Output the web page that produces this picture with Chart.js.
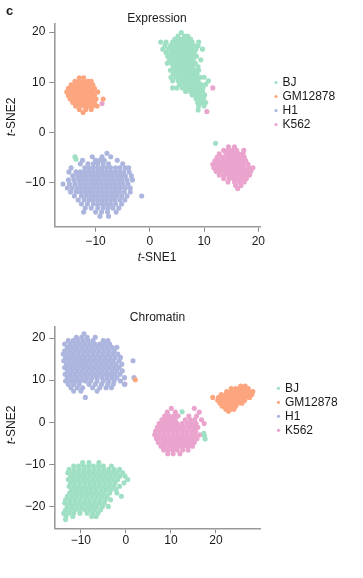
<!DOCTYPE html>
<html><head><meta charset="utf-8">
<script src="https://cdn.jsdelivr.net/npm/chart.js@4"></script>
<style>
html,body{margin:0;padding:0;background:#fff;width:363px;height:578px;overflow:hidden}
canvas{position:absolute;left:0}
#c1{top:0}
#c2{top:290px}
</style></head><body>
<canvas id="c1" width="363" height="290"></canvas>
<canvas id="c2" width="363" height="288"></canvas>
<script>
const cellTypes = ['BJ', 'GM12878', 'H1', 'K562'];
const colors = ['#9fe0c4', '#fca57e', '#abb5de', '#e9a3cd'];
const panelTitles = ['Expression', 'Chromatin'];
const exprTicksX = [-10, 0, 10, 20];
const exprTicksY = [-10, 0, 10, 20];
const chromTicksX = [-10, 0, 10, 20];
const chromTicksY = [-20, -10, 0, 10, 20];

// ---- Expression panel: rows of [y, [x values]] ----
const exprBJ = [
  [19.9, [5.8]],
  [19.2, [5.2, 6.4, 7.0]],
  [18.6, [4.6, 5.4, 6.1, 6.8, 7.5]],
  [18.0, [2.0, 3.0, 4.2, 5.0, 5.7, 6.4, 7.1, 7.8, 9.0]],
  [17.3, [2.8, 3.8, 4.6, 5.3, 6.0, 6.7, 7.4, 8.1, 8.9]],
  [16.6, [2.4, 3.4, 4.2, 5.0, 5.7, 6.4, 7.1, 7.8, 8.5, 9.7]],
  [15.9, [3.0, 3.9, 4.6, 5.4, 6.1, 6.8, 7.5, 8.2]],
  [15.2, [3.3, 4.1, 4.9, 5.6, 6.3, 7.0, 7.7, 8.6]],
  [14.5, [3.6, 4.4, 5.2, 5.9, 6.6, 7.3, 8.0, 9.4]],
  [13.8, [3.2, 4.0, 4.8, 5.5, 6.2, 6.9, 7.6, 8.4]],
  [13.1, [4.3, 5.0, 5.8, 6.5, 7.2, 7.9, 8.9]],
  [12.4, [3.8, 4.6, 5.4, 6.1, 6.8, 7.5, 8.2, 9.0]],
  [11.7, [4.3, 5.1, 5.9, 6.6, 7.3, 8.0, 8.7]],
  [11.0, [3.9, 4.8, 5.6, 6.4, 7.1, 7.8, 8.5, 9.3, 10.0]],
  [10.3, [4.2, 5.2, 6.0, 6.8, 7.5, 8.2, 8.9, 10.8]],
  [9.6, [5.5, 6.4, 7.2, 7.9, 8.6, 9.4, 10.3]],
  [8.9, [4.2, 5.0, 6.0, 6.9, 7.6, 8.3, 9.0, 9.8]],
  [8.2, [6.6, 7.5, 8.3, 9.0, 9.7]],
  [7.5, [7.8, 8.6, 9.3, 10.1]],
  [6.8, [8.5, 9.2, 9.9]],
  [6.0, [8.8, 9.6, 10.3]],
  [5.3, [9.0, 10.0]],
  [4.5, [8.9]]
];
const exprBJOut = [[-13.8, -4.8], [-13.6, -5.3], [12.1, -2.1]];

const exprGM = [
  [10.9, [-13.0, -12.2]],
  [10.2, [-13.8, -13.0, -12.2, -11.4, -10.8]],
  [9.5, [-14.5, -13.7, -12.9, -12.1, -11.3, -10.5]],
  [8.8, [-15.0, -14.2, -13.4, -12.6, -11.8, -11.0, -10.2]],
  [8.1, [-15.3, -14.5, -13.7, -12.9, -12.1, -11.3, -10.5, -9.6]],
  [7.4, [-15.0, -14.2, -13.4, -12.6, -11.8, -11.0, -10.2]],
  [6.7, [-14.7, -13.9, -13.1, -12.3, -11.5, -10.7, -9.9, -8.6]],
  [6.0, [-14.2, -13.4, -12.6, -11.8, -11.0, -10.2]],
  [5.3, [-13.7, -12.9, -12.1, -11.3, -10.5, -9.7]],
  [4.6, [-13.0, -11.8, -10.8]],
  [4.0, [-12.3]]
];
const exprGMOut = [];

const exprH1 = [
  [-4.1, [-7.9]],
  [-4.8, [-10.6, -8.8, -7.2]],
  [-5.5, [-12.4, -10.0, -9.2, -8.4, -6.0]],
  [-6.2, [-12.8, -11.4, -10.4, -9.6, -8.6, -7.6, -5.0]],
  [-7.0, [-14.5, -12.0, -11.2, -10.4, -9.6, -8.8, -8.0, -7.2, -6.3, -5.5, -4.5, -3.9]],
  [-7.8, [-14.9, -13.6, -12.8, -12.0, -11.2, -10.4, -9.6, -8.8, -8.0, -7.2, -6.4, -5.6, -4.8, -3.8]],
  [-8.6, [-14.2, -13.3, -12.5, -11.7, -10.9, -10.1, -9.3, -8.5, -7.7, -6.9, -6.1, -5.3, -4.5, -3.4]],
  [-9.4, [-15.0, -14.0, -13.1, -12.3, -11.5, -10.7, -9.9, -9.1, -8.3, -7.5, -6.7, -5.9, -5.1, -4.2, -3.2]],
  [-10.2, [-16.0, -14.8, -13.8, -12.9, -12.1, -11.3, -10.5, -9.7, -8.9, -8.1, -7.3, -6.5, -5.7, -4.9, -4.0]],
  [-11.0, [-15.2, -14.3, -13.4, -12.6, -11.8, -11.0, -10.2, -9.4, -8.6, -7.8, -7.0, -6.2, -5.4, -4.5, -3.6]],
  [-11.8, [-14.6, -13.6, -12.8, -12.0, -11.2, -10.4, -9.6, -8.8, -8.0, -7.2, -6.4, -5.6, -4.7, -3.6]],
  [-12.6, [-13.9, -12.6, -11.7, -10.9, -10.1, -9.3, -8.5, -7.7, -6.9, -6.1, -5.2, -4.2, -1.5]],
  [-13.4, [-13.2, -12.1, -11.2, -10.4, -9.6, -8.8, -8.0, -7.2, -6.4, -5.5, -4.6]],
  [-14.2, [-12.6, -11.5, -10.4, -9.6, -8.8, -8.0, -7.2, -6.3, -5.2]],
  [-15.0, [-11.9, -10.8, -9.6, -8.6, -7.7, -6.8, -5.7]],
  [-15.8, [-12.2, -10.0, -8.9, -7.8, -6.2]],
  [-16.6, [-9.2, -7.6]]
];
const exprH1Out = [];

const exprK562 = [
  [-2.8, [14.5, 15.6]],
  [-3.5, [13.6, 14.4, 15.2, 16.0, 17.3]],
  [-4.2, [12.8, 14.0, 14.8, 15.6, 16.4, 17.2]],
  [-4.9, [12.4, 13.3, 14.2, 15.0, 15.8, 16.6, 17.4]],
  [-5.6, [12.0, 12.8, 13.7, 14.5, 15.3, 16.1, 16.9, 17.7]],
  [-6.3, [11.6, 12.4, 13.2, 14.0, 14.8, 15.6, 16.4, 17.2, 18.1]],
  [-7.0, [11.8, 12.6, 13.4, 14.2, 15.0, 15.8, 16.6, 17.4, 18.3, 19.0]],
  [-7.7, [12.2, 13.0, 13.8, 14.6, 15.4, 16.2, 17.0, 17.8, 18.6]],
  [-8.4, [12.8, 13.7, 14.5, 15.3, 16.1, 16.9, 17.7, 18.4]],
  [-9.1, [13.6, 14.6, 15.4, 16.2, 17.0, 17.8]],
  [-9.8, [14.4, 15.6, 16.5, 17.4]],
  [-10.5, [15.8, 16.8]],
  [-11.1, [16.2]]
];
const exprK562Out = [[11.6, 8.9], [10.5, 4.2], [-8.8, 5.8]];

// ---- Chromatin panel ----
const chromBJ = [
  [-9.6, [-9.6, -8.2, -6.0]],
  [-10.4, [-11.6, -10.5, -9.4, -8.3, -7.2, -6.1, -5.0, -3.2]],
  [-11.2, [-12.6, -11.5, -10.4, -9.3, -8.2, -7.1, -6.0, -4.9, -3.8, -2.6, -1.4]],
  [-12.0, [-12.9, -11.8, -10.7, -9.6, -8.5, -7.4, -6.3, -5.2, -4.1, -3.0, -1.9, -0.7]],
  [-12.8, [-12.3, -11.2, -10.1, -9.0, -7.9, -6.8, -5.7, -4.6, -3.5, -2.4, -1.3, -0.2]],
  [-13.6, [-12.8, -11.7, -10.6, -9.5, -8.4, -7.3, -6.2, -5.1, -4.0, -2.9, -1.8, 0.4]],
  [-14.4, [-12.3, -11.2, -10.1, -9.0, -7.9, -6.8, -5.7, -4.6, -3.5, -2.4, -0.4]],
  [-15.2, [-12.6, -11.5, -10.4, -9.3, -8.2, -7.1, -6.0, -4.9, -3.8, -2.7, -1.4]],
  [-16.0, [-12.1, -11.0, -9.9, -8.8, -7.7, -6.6, -5.5, -4.4, -3.3, -2.2]],
  [-16.8, [-12.5, -11.4, -10.3, -9.2, -8.1, -7.0, -5.9, -4.8, -3.6, -2.0]],
  [-17.6, [-13.0, -11.9, -10.8, -9.7, -8.6, -7.5, -6.4, -5.3, -4.2, -1.0]],
  [-18.4, [-13.4, -12.3, -11.2, -10.1, -9.0, -7.9, -6.8, -5.7, -4.6, -3.4]],
  [-19.2, [-13.6, -12.5, -11.4, -10.3, -9.2, -8.1, -7.0, -5.9, -4.8]],
  [-20.0, [-13.0, -11.9, -10.8, -9.7, -8.6, -7.5, -6.4, -5.2, -3.9]],
  [-20.8, [-13.4, -12.3, -11.2, -10.1, -9.0, -7.9, -6.8, -5.6]],
  [-21.6, [-13.8, -12.7, -11.6, -10.2, -8.6, -7.4, -6.2]],
  [-22.4, [-13.3, -11.8, -7.6, -6.6]],
  [-23.1, [-13.4]]
];
const chromBJOut = [[12.5, 2.5], [17.3, -2.6], [17.5, -3.3], [17.6, -4.0]];

const chromGM = [
  [8.6, [25.5, 26.5]],
  [8.0, [23.4, 24.4, 25.3, 26.3, 27.2]],
  [7.3, [22.4, 23.4, 24.4, 25.4, 26.4, 27.4, 28.2]],
  [6.6, [21.2, 22.2, 23.2, 24.2, 25.2, 26.2, 27.2, 28.0]],
  [5.9, [19.3, 20.6, 21.6, 22.6, 23.6, 24.6, 25.6, 26.6, 27.5]],
  [5.2, [20.4, 21.4, 22.4, 23.4, 24.4, 25.4, 26.4]],
  [4.5, [20.9, 21.9, 22.9, 23.9, 24.9, 25.8]],
  [3.8, [21.4, 22.4, 23.4, 24.4]],
  [3.1, [22.2, 23.2, 24.0]],
  [2.6, [22.8]]
];
const chromGMOut = [[2.1, 10.1]];

const chromH1 = [
  [21.0, [-9.3]],
  [20.2, [-11.0, -9.8, -8.6, -6.8]],
  [19.4, [-12.8, -11.7, -10.6, -9.5, -8.4, -7.3, -5.0, -4.0]],
  [18.6, [-13.6, -12.4, -11.3, -10.2, -9.1, -8.0, -6.9, -5.8, -4.7, -3.6]],
  [17.8, [-13.0, -11.9, -10.8, -9.7, -8.6, -7.5, -6.4, -5.3, -4.2, -3.1, -2.0]],
  [17.0, [-13.6, -12.5, -11.4, -10.3, -9.2, -8.1, -7.0, -5.9, -4.8, -3.7, -2.6]],
  [16.2, [-13.9, -12.8, -11.7, -10.6, -9.5, -8.4, -7.3, -6.2, -5.1, -4.0, -2.9, -1.8]],
  [15.4, [-13.4, -12.3, -11.2, -10.1, -9.0, -7.9, -6.8, -5.7, -4.6, -3.5, -2.4, -1.2]],
  [14.6, [-13.8, -12.7, -11.6, -10.5, -9.4, -8.3, -7.2, -6.1, -5.0, -3.9, -2.8, -1.5, 1.6]],
  [13.8, [-13.2, -12.1, -11.0, -9.9, -8.8, -7.7, -6.6, -5.5, -4.4, -3.3, -2.2, -0.9]],
  [13.0, [-13.6, -12.5, -11.4, -10.3, -9.2, -8.1, -7.0, -5.9, -4.8, -3.7, -2.6, -1.5]],
  [12.2, [-13.0, -11.9, -10.8, -9.7, -8.6, -7.5, -6.4, -5.3, -4.2, -3.1, -2.0, -0.8]],
  [11.4, [-13.5, -12.4, -11.3, -10.2, -9.1, -8.0, -6.9, -5.8, -4.7, -3.6, -2.5, -1.3]],
  [10.6, [-13.0, -11.9, -10.8, -9.7, -8.6, -7.5, -6.4, -5.3, -4.2, -3.1, -2.0, -0.3, 1.8]],
  [9.8, [-13.4, -12.3, -11.2, -10.1, -9.0, -7.8, -6.4, -5.0, -3.8, -2.6, -1.2]],
  [9.0, [-12.8, -11.6, -10.4, -8.2, -6.8, -5.4, -4.0, -2.8, -0.3]],
  [8.2, [-12.2, -10.8, -9.6, -7.4, -5.8, -4.4, -3.2]],
  [7.4, [-11.6, -10.0, -6.4]],
  [5.9, [-9.0]]
];
const chromH1Out = [];

const chromK562 = [
  [3.3, [10.1, 15.2]],
  [2.4, [9.2, 11.0, 16.3]],
  [1.5, [8.6, 9.6, 10.6, 11.6, 14.0, 15.7]],
  [0.6, [8.0, 9.0, 10.0, 11.0, 13.2, 14.3, 15.3, 16.8]],
  [-0.3, [7.4, 8.4, 9.4, 10.4, 11.4, 12.5, 13.6, 14.6, 15.6, 17.4]],
  [-1.2, [7.0, 8.0, 9.0, 10.0, 11.0, 12.0, 13.0, 14.0, 15.0, 16.0]],
  [-2.1, [6.6, 7.6, 8.6, 9.6, 10.6, 11.6, 12.6, 13.6, 14.6, 15.5]],
  [-3.0, [6.4, 7.4, 8.4, 9.4, 10.4, 11.4, 12.4, 13.4, 14.4, 15.4, 16.4]],
  [-3.9, [6.8, 7.8, 8.8, 9.8, 10.8, 11.8, 12.8, 13.8, 14.8, 15.8]],
  [-4.8, [7.2, 8.2, 9.2, 10.2, 11.2, 12.2, 13.2, 14.2, 15.2]],
  [-5.7, [7.8, 8.8, 9.8, 10.8, 11.8, 12.8, 13.8, 14.8]],
  [-6.6, [8.4, 9.4, 10.4, 11.4, 12.6, 13.8]],
  [-7.5, [9.3, 10.5, 12.0]]
];
const chromK562Out = [[-0.2, 9.1]];

function toPoints(rows, extra) {
  const pts = [];
  rows.forEach(([y, xs]) => xs.forEach(x => pts.push({ x: x, y: y })));
  extra.forEach(([x, y]) => pts.push({ x: x, y: y }));
  return pts;
}

const FONT = "'Liberation Sans', Arial, Helvetica, sans-serif";
const fmt = v => (v < 0 ? '\u2212' : '') + Math.abs(v);

function makeDatasets(groups) {
  return groups.map((g, i) => ({
    label: cellTypes[i],
    data: toPoints(g[0], g[1]),
    backgroundColor: colors[i],
    borderWidth: 0,
    pointRadius: 2.55,
    pointHoverRadius: 2.55
  }));
}

function textPlugin(cfg) {
  return {
    id: 'texts',
    afterDraw(chart) {
      const ctx = chart.ctx;
      ctx.save();
      ctx.fillStyle = '#1a1a1a';
      ctx.textBaseline = 'middle';
      if (cfg.letter) {
        ctx.font = 'bold 13px ' + FONT;
        ctx.textAlign = 'left';
        ctx.fillText(cfg.letter, 6, 11);
      }
      ctx.font = '12px ' + FONT;
      ctx.textAlign = 'center';
      ctx.fillText(cfg.title, cfg.titleX, cfg.titleY);
      function tsne(label, cx, cy, rot) {
        ctx.save();
        ctx.translate(cx, cy);
        if (rot) ctx.rotate(-Math.PI / 2);
        ctx.textAlign = 'left';
        ctx.font = 'italic 12px ' + FONT;
        const w1 = ctx.measureText('t').width;
        ctx.font = '12px ' + FONT;
        const w2 = ctx.measureText(label).width;
        const x0 = -(w1 + w2) / 2;
        ctx.font = 'italic 12px ' + FONT;
        ctx.fillText('t', x0, 0);
        ctx.font = '12px ' + FONT;
        ctx.fillText(label, x0 + w1, 0);
        ctx.restore();
      }
      if (cfg.xTitle) tsne('-SNE1', cfg.xTitle[0], cfg.xTitle[1], false);
      tsne('-SNE2', cfg.yTitle[0], cfg.yTitle[1], true);
      ctx.textAlign = 'left';
      ctx.font = '12px ' + FONT;
      cellTypes.forEach((name, i) => {
        const y = cfg.legY + i * cfg.legStep;
        ctx.fillStyle = colors[i];
        ctx.beginPath();
        ctx.arc(cfg.legX, y, 1.6, 0, Math.PI * 2);
        ctx.fill();
        ctx.fillStyle = '#1a1a1a';
        ctx.fillText(name, cfg.legX + 6.5, y);
      });
      ctx.restore();
    }
  };
}

function makeChart(id, groups, xr, yr, xt, yt, pad, labelPad, cfg) {
  const axisCommon = {
    type: 'linear',
    grid: { drawOnChartArea: false, drawTicks: true, tickLength: 5, color: '#8a8a8a', lineWidth: 1 },
    border: { display: true, color: '#9a9a9a', width: 1.6 },
    ticks: { color: '#1a1a1a', font: { family: FONT, size: 12 }, callback: fmt }
  };
  return new Chart(document.getElementById(id), {
    type: 'scatter',
    data: { datasets: makeDatasets(groups) },
    options: {
      responsive: false,
      animation: false,
      events: [],
      layout: { padding: pad },
      plugins: { legend: { display: false }, title: { display: false }, tooltip: { enabled: false } },
      scales: {
        x: Object.assign({}, axisCommon, {
          min: xr[0], max: xr[1],
          ticks: Object.assign({}, axisCommon.ticks, { padding: labelPad, maxRotation: 0 }),
          afterBuildTicks: s => { s.ticks = xt.map(v => ({ value: v })); },
          afterFit: s => { s.height = 30; }
        }),
        y: Object.assign({}, axisCommon, {
          min: yr[0], max: yr[1],
          ticks: Object.assign({}, axisCommon.ticks, { padding: 4 }),
          afterBuildTicks: s => { s.ticks = yt.map(v => ({ value: v })); },
          afterFit: s => { s.width = 54.3; }
        })
      }
    },
    plugins: [textPlugin(cfg)]
  });
}

makeChart('c1',
  [[exprBJ, exprBJOut], [exprGM, exprGMOut], [exprH1, exprH1Out], [exprK562, exprK562Out]],
  [-17.6, 20.3], [-18.7, 21.6], exprTicksX, exprTicksY,
  { left: 0, right: 103, top: 24, bottom: 33.3 }, 3,
  { letter: 'c', title: panelTitles[0], titleX: 157, titleY: 19, xTitle: [157, 258], yTitle: [11.5, 117],
    legX: 276, legY: 82.5, legStep: 14 });

makeChart('c2',
  [[chromBJ, chromBJOut], [chromGM, chromGMOut], [chromH1, chromH1Out], [chromK562, chromK562Out]],
  [-15.9, 29.8], [-25.2, 22.7], chromTicksX, chromTicksY,
  { left: 0, right: 103, top: 36.7, bottom: 19.7 }, 0,
  { letter: null, title: panelTitles[1], titleX: 157.5, titleY: 27.7, xTitle: null, yTitle: [11.5, 135],
    legX: 278.5, legY: 98.3, legStep: 14 });
</script>
</body></html>
